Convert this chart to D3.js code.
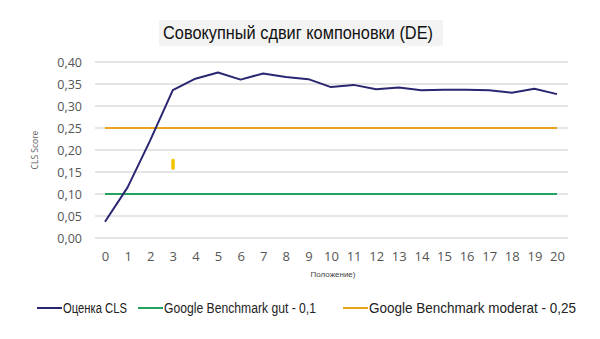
<!DOCTYPE html>
<html>
<head>
<meta charset="utf-8">
<script src="https://cdn.jsdelivr.net/npm/d3@7"></script>
<style>
    body { margin: 0; background: #fff; }
    svg { display: block; }
</style>
</head>
<body>
<div id="chart"></div>
<script>
const positions = d3.range(0, 21);
const clsScore = [0.037, 0.115, 0.222, 0.336, 0.362, 0.376, 0.36, 0.374, 0.366, 0.361, 0.343,
    0.348, 0.338, 0.342, 0.336, 0.337, 0.337, 0.336, 0.33, 0.339, 0.327];
const benchmarkGood = 0.1;
const benchmarkModerate = 0.25;
const yTicks = [0, 0.05, 0.1, 0.15, 0.2, 0.25, 0.3, 0.35, 0.4];
const strayMark = { x: 3, y0: 0.155, y1: 0.18 };
const legendItems = [
    { label: 'Оценка CLS', color: '#2b2672' },
    { label: 'Google Benchmark gut - 0,1', color: '#22a460' },
    { label: 'Google Benchmark moderat - 0,25', color: '#e8a51c' },
];

const width = 600;
const height = 339;
const fmt = (d) => d.toFixed(2).replace('.', ',');

const svg = d3.select('#chart').append('svg')
    .attr('width', width)
    .attr('height', height);

const x = d3.scaleLinear().domain([0, 20]).range([105, 557]);
const y = d3.scaleLinear().domain([0, 0.4]).range([238, 62]);

// title with its light grey box
svg.append('rect')
    .attr('x', 159).attr('y', 20)
    .attr('width', 284).attr('height', 26)
    .attr('fill', '#f3f3f3');
svg.append('text')
    .attr('x', 298)
    .attr('y', 39)
    .attr('text-anchor', 'middle')
    .attr('font-family', 'Liberation Sans, Arial, sans-serif')
    .attr('font-size', 18)
    .attr('fill', '#111')
    .attr('textLength', 270)
    .attr('lengthAdjust', 'spacingAndGlyphs')
    .text('Совокупный сдвиг компоновки (DE)');

// gridlines
svg.append('g')
    .selectAll('line')
    .data(yTicks)
    .join('line')
    .attr('x1', 95)
    .attr('x2', 568)
    .attr('y1', (d) => y(d))
    .attr('y2', (d) => y(d))
    .attr('stroke', '#dcdcdc')
    .attr('stroke-width', 1.3);

// y axis labels
const yAxis = svg.append('g')
    .attr('transform', 'translate(82, 0)')
    .call(d3.axisLeft(y).tickValues(yTicks).tickFormat(fmt).tickSize(0).tickPadding(0));
yAxis.select('.domain').remove();
yAxis.selectAll('text')
    .attr('font-family', 'Open Sans, sans-serif')
    .attr('font-size', 12.5)
    .attr('fill', '#555');

// x axis labels
const xAxis = svg.append('g')
    .attr('transform', 'translate(0, 252)')
    .call(d3.axisBottom(x).tickValues(positions).tickFormat(d3.format('d')).tickSize(0).tickPadding(0));
xAxis.select('.domain').remove();
xAxis.selectAll('text')
    .attr('font-family', 'Open Sans, sans-serif')
    .attr('font-size', 13)
    .attr('fill', '#555');

// axis titles
svg.append('text')
    .attr('transform', 'translate(38, 150) rotate(-90)')
    .attr('text-anchor', 'middle')
    .attr('font-family', 'Open Sans, sans-serif')
    .attr('font-size', 8.5)
    .attr('fill', '#595959')
    .text('CLS Score');

svg.append('text')
    .attr('x', 333)
    .attr('y', 277)
    .attr('text-anchor', 'middle')
    .attr('font-family', 'Liberation Sans Narrow, Liberation Sans, sans-serif')
    .attr('font-size', 8)
    .attr('fill', '#444')
    .text('Положение)');

// benchmark lines
svg.append('line')
    .attr('x1', x(0)).attr('x2', x(20))
    .attr('y1', y(benchmarkGood)).attr('y2', y(benchmarkGood))
    .attr('stroke', legendItems[1].color)
    .attr('stroke-width', 2);

svg.append('line')
    .attr('x1', x(0)).attr('x2', x(20))
    .attr('y1', y(benchmarkModerate)).attr('y2', y(benchmarkModerate))
    .attr('stroke', legendItems[2].color)
    .attr('stroke-width', 2);

// small yellow mark
svg.append('rect')
    .attr('x', x(strayMark.x) - 1.5)
    .attr('y', y(strayMark.y1))
    .attr('width', 3.5)
    .attr('height', y(strayMark.y0) - y(strayMark.y1))
    .attr('rx', 1.5)
    .attr('fill', '#f2c400');

// CLS line
const line = d3.line()
    .x((d, i) => x(positions[i]))
    .y((d) => y(d));

svg.append('path')
    .datum(clsScore)
    .attr('d', line)
    .attr('fill', 'none')
    .attr('stroke', legendItems[0].color)
    .attr('stroke-width', 2)
    .attr('stroke-linejoin', 'round');

// legend
const legendX = [37, 138, 343];
const legendTextWidth = [64, 152, 207];
const legend = svg.append('g')
    .selectAll('g')
    .data(legendItems)
    .join('g')
    .attr('transform', (d, i) => `translate(${legendX[i]}, 308)`);

legend.append('line')
    .attr('x1', 0)
    .attr('x2', 25)
    .attr('stroke', (d) => d.color)
    .attr('stroke-width', 2);

legend.append('text')
    .attr('x', 26)
    .attr('y', 5)
    .attr('font-family', 'Liberation Sans, Arial, sans-serif')
    .attr('font-size', 14)
    .attr('fill', '#222')
    .attr('textLength', (d, i) => legendTextWidth[i])
    .attr('lengthAdjust', 'spacingAndGlyphs')
    .text((d) => d.label);
</script>
</body>
</html>
